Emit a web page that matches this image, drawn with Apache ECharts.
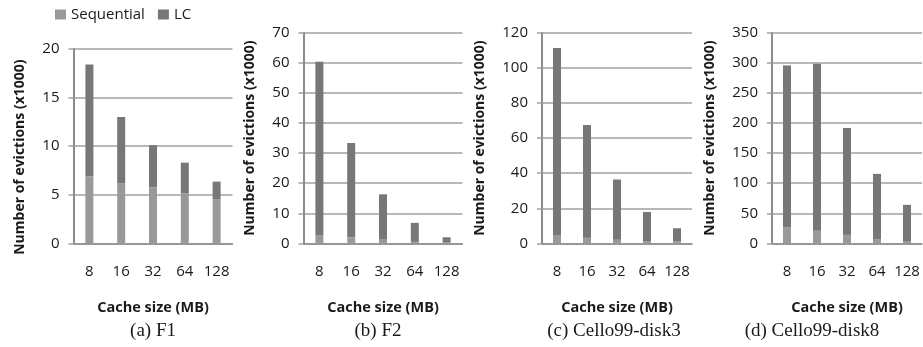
<!DOCTYPE html>
<html>
<head>
<meta charset="utf-8">
<script src="https://cdn.jsdelivr.net/npm/echarts@6/dist/echarts.min.js"></script>
<style>
html,body{margin:0;padding:0;background:#fff;}
#c{width:923px;height:347px;}
</style>
</head>
<body>
<div id="c"></div>
<script>
// ---- data (x1000 evictions) ----
const categories = ['8', '16', '32', '64', '128'];
// Sequential part and LC part (stacked on top of Sequential)
const seqF1 = [6.9, 6.15, 5.75, 5.15, 4.5];
const lcF1  = [11.5, 6.85, 4.35, 3.15, 1.85];
const seqF2 = [2.8, 1.9, 1.2, 0.5, 0.25];
const lcF2  = [57.6, 31.5, 15.1, 6.3, 1.75];
const seqC3 = [4.8, 3.1, 2.0, 1.3, 1.1];
const lcC3  = [106.7, 64.4, 34.4, 16.6, 7.5];
const seqC8 = [27, 21, 14, 7, 2.7];
const lcC8  = [269, 278, 178, 108.5, 61.3];
const yMax = [20, 70, 120, 350];
const yInterval = [5, 10, 20, 50];
const captions = ['(a) F1', '(b) F2', '(c) Cello99-disk3', '(d) Cello99-disk8'];
const seqName = 'Sequential';
const lcName = 'LC';
const yTitle = 'Number of evictions (x1000)';
const xTitle = 'Cache size (MB)';

// ---- layout ----
const grids = [
  {left: 73.5, top: 49, width: 159, height: 194.3},
  {left: 303.5, top: 33, width: 159, height: 210.3},
  {left: 542, top: 33, width: 150, height: 210.3},
  {left: 772, top: 33, width: 150, height: 210.3}
];
const nameGaps = [46, 46, 54.5, 54.5];
const namePads = [[0, 22, 0, 0], [0, 0, 0, 0], [0, 0, 0, 0], [0, 0, 0, 0]];
const capX = [153, 378, 614, 812];
const seqAll = [seqF1, seqF2, seqC3, seqC8];
const lcAll = [lcF1, lcF2, lcC3, lcC8];

const FONT = 'Open Sans';
const TXT = '#1a1a1a';
const SEQ_C = '#99999b';
const LC_C = '#77777a';
const GRID_C = '#a0a0a0';
const AXIS_C = '#8c8c8c';

const xAxes = [], yAxes = [], series = [];
for (let i = 0; i < 4; i++) {
  xAxes.push({
    type: 'category', gridIndex: i, data: categories,
    axisLine: {show: true, lineStyle: {color: AXIS_C, width: 1.5}},
    axisTick: {show: false},
    axisLabel: {color: TXT, fontFamily: FONT, fontSize: 15, margin: 21, interval: 0},
    name: xTitle, nameLocation: 'middle', nameGap: 57,
    nameTextStyle: {color: TXT, fontFamily: FONT, fontSize: 14.5, fontWeight: 'bold'}
  });
  yAxes.push({
    type: 'value', gridIndex: i, min: 0, max: yMax[i], interval: yInterval[i],
    axisLine: {show: true, lineStyle: {color: AXIS_C, width: 2}},
    axisTick: {show: true, inside: false, length: 5, lineStyle: {color: GRID_C, width: 1.5}},
    splitLine: {show: true, lineStyle: {color: GRID_C, width: 1.5}},
    axisLabel: {color: TXT, fontFamily: FONT, fontSize: 15, margin: 14},
    name: yTitle, nameLocation: 'middle', nameRotate: 90, nameGap: nameGaps[i],
    nameTextStyle: {color: TXT, fontFamily: FONT, fontSize: 14, fontWeight: 'bold', padding: namePads[i]}
  });
  series.push({
    name: seqName, type: 'bar', stack: 's' + i, xAxisIndex: i, yAxisIndex: i,
    data: seqAll[i], barWidth: 8, itemStyle: {color: SEQ_C}, silent: true
  });
  series.push({
    name: lcName, type: 'bar', stack: 's' + i, xAxisIndex: i, yAxisIndex: i,
    data: lcAll[i], barWidth: 8, itemStyle: {color: LC_C}, silent: true
  });
}

const graphics = captions.map((t, i) => ({
  type: 'text', x: capX[i], y: 331,
  style: {text: t, fill: TXT, font: '19px "Liberation Serif"', textAlign: 'center', textVerticalAlign: 'middle'}
}));

const chart = echarts.init(document.getElementById('c'), null, {renderer: 'canvas'});
chart.setOption({
  animation: false,
  backgroundColor: '#fff',
  legend: {
    left: 50, top: 2, itemWidth: 11, itemHeight: 10, itemGap: 13,
    icon: 'rect',
    data: [seqName, lcName],
    textStyle: {color: TXT, fontFamily: FONT, fontSize: 15}
  },
  grid: grids,
  xAxis: xAxes,
  yAxis: yAxes,
  series: series,
  graphic: graphics
});
</script>
</body>
</html>
